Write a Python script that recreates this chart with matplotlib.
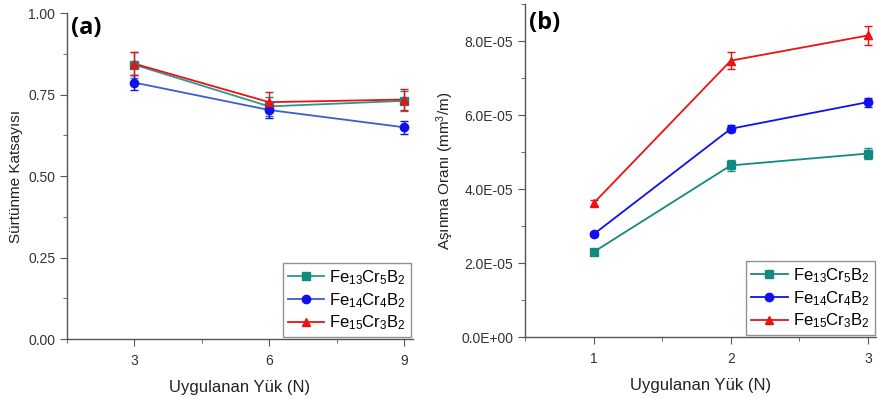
import matplotlib
matplotlib.use("Agg")
import matplotlib.pyplot as plt
from matplotlib.ticker import MultipleLocator, FuncFormatter

# (a) friction coefficient vs load
load_a = [3, 6, 9]
fe13_a = [0.842, 0.714, 0.731]
fe14_a = [0.787, 0.703, 0.650]
fe15_a = [0.845, 0.727, 0.735]
fe13_a_err = [0.040, 0.030, 0.030]
fe14_a_err = [0.022, 0.025, 0.020]
fe15_a_err = [0.035, 0.030, 0.033]

# (b) wear rate vs load
load_b = [1, 2, 3]
fe13_b = [2.30e-5, 4.64e-5, 4.96e-5]
fe14_b = [2.78e-5, 5.63e-5, 6.35e-5]
fe15_b = [3.62e-5, 7.47e-5, 8.15e-5]
fe13_b_err = [0.06e-5, 0.14e-5, 0.16e-5]
fe14_b_err = [0.05e-5, 0.10e-5, 0.12e-5]
fe15_b_err = [0.08e-5, 0.22e-5, 0.25e-5]

labels = [r"Fe$_{\mathregular{13}}$Cr$_{\mathregular{5}}$B$_{\mathregular{2}}$",
          r"Fe$_{\mathregular{14}}$Cr$_{\mathregular{4}}$B$_{\mathregular{2}}$",
          r"Fe$_{\mathregular{15}}$Cr$_{\mathregular{3}}$B$_{\mathregular{2}}$"]
colors = ["#138a80", "#1010ee", "#ee1111"]
line_colors = ["#2a9a90", "#3a5fcd", "#ee1111"]
markers = ["s", "o", "^"]

plt.rcParams["font.family"] = ["Liberation Sans", "DejaVu Sans"]
plt.rcParams["mathtext.fontset"] = "custom"
plt.rcParams["mathtext.rm"] = "Liberation Sans"
plt.rcParams["mathtext.it"] = "Liberation Sans"

fig = plt.figure(figsize=(8.78, 3.99), dpi=100)
ax1 = fig.add_axes([0.0763, 0.150, 0.394, 0.817])
ax2 = fig.add_axes([0.598, 0.155, 0.400, 0.835])


def style_axes(ax):
    for side in ["top", "right"]:
        ax.spines[side].set_visible(False)
    for side in ["left", "bottom"]:
        ax.spines[side].set_color("#555555")
        ax.spines[side].set_linewidth(1.0)
    ax.tick_params(which="major", direction="out", length=5, color="#555555",
                   labelsize=10, labelcolor="#333333")
    ax.tick_params(axis="x", which="major", pad=6)
    ax.tick_params(which="minor", direction="out", length=3, color="#555555")


series_a = [(fe13_a, fe13_a_err), (fe14_a, fe14_a_err), (fe15_a, fe15_a_err)]
for (vals, errs), c, lc, m, lab in zip(series_a, colors, line_colors, markers, labels):
    ax1.plot(load_a, vals, color=lc, lw=1.3, zorder=2)
    ax1.errorbar(load_a, vals, yerr=errs, fmt=m, color=c, ms=6, capsize=3,
                 elinewidth=1, capthick=1, zorder=3)
    ax1.plot([], [], color=lc, marker=m, mfc=c, mec=c, ms=6, lw=1.3, label=lab)

ax1.set_xlim(1.5, 9.2)
ax1.set_ylim(0, 1.0)
ax1.set_xticks(load_a)
ax1.xaxis.set_minor_locator(MultipleLocator(1.5))
ax1.yaxis.set_major_locator(MultipleLocator(0.25))
ax1.yaxis.set_minor_locator(MultipleLocator(0.125))
ax1.yaxis.set_major_formatter(FuncFormatter(lambda v, p: f"{v:.2f}"))
ax1.set_xlabel("Uygulanan Yük (N)", fontsize=12, color="#222222", labelpad=8)
ax1.set_ylabel("Sürtünme Katsayısı", fontsize=11, color="#222222")
style_axes(ax1)
ax1.text(0.012, 0.99, "(a)", transform=ax1.transAxes, fontsize=17,
         fontweight="bold", family="Open Sans", va="top", ha="left")
leg1 = ax1.legend(loc="lower right", fontsize=12, frameon=True, fancybox=False,
                  borderpad=0.3, labelspacing=0.25, handlelength=2.2,
                  handletextpad=0.3, borderaxespad=0.1)
leg1.get_frame().set_edgecolor("#777777")
leg1.get_frame().set_linewidth(1.0)

series_b = [(fe13_b, fe13_b_err), (fe14_b, fe14_b_err), (fe15_b, fe15_b_err)]
for (vals, errs), c, lc, m, lab in zip(series_b, colors, colors, markers, labels):
    ax2.plot(load_b, vals, color=lc, lw=1.3, zorder=2)
    ax2.errorbar(load_b, vals, yerr=errs, fmt=m, color=c, ms=6, capsize=3,
                 elinewidth=1, capthick=1, zorder=3)
    ax2.plot([], [], color=lc, marker=m, mfc=c, mec=c, ms=6, lw=1.3, label=lab)

ax2.set_xlim(0.5, 3.06)
ax2.set_ylim(0, 9.0e-5)
ax2.set_xticks(load_b)
ax2.xaxis.set_minor_locator(MultipleLocator(0.5))
ax2.yaxis.set_major_locator(MultipleLocator(2e-5))
ax2.yaxis.set_minor_locator(MultipleLocator(1e-5))
ax2.yaxis.set_major_formatter(FuncFormatter(lambda v, p: f"{v:.1E}"))
ax2.set_xlabel("Uygulanan Yük (N)", fontsize=12, color="#222222", labelpad=8)
ax2.set_ylabel("Aşınma Oranı (mm$^3$/m)", fontsize=11, color="#222222")
style_axes(ax2)
ax2.text(0.012, 0.98, "(b)", transform=ax2.transAxes, fontsize=17,
         fontweight="bold", family="Open Sans", va="top", ha="left")
leg2 = ax2.legend(loc="lower right", fontsize=12, frameon=True, fancybox=False,
                  borderpad=0.3, labelspacing=0.25, handlelength=2.2,
                  handletextpad=0.3, borderaxespad=0.1)
leg2.get_frame().set_edgecolor("#777777")
leg2.get_frame().set_linewidth(1.0)

fig.savefig("out.png", dpi=100)
